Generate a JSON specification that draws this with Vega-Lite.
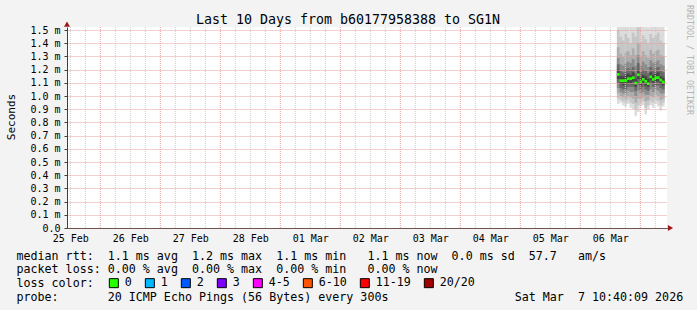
{
  "$schema": "https://vega.github.io/schema/vega-lite/v6.json",
  "width": 600,
  "height": 201,
  "autosize": {"type": "none"},
  "padding": {"left": 67, "top": 27, "right": 30, "bottom": 82},
  "background": "#f3f3f3",
  "config": {
    "view": {"fill": "white", "stroke": null},
    "font": "DejaVu Sans Mono"
  },
  "title": {
    "text": "Last 10 Days from b60177958388 to SG1N",
    "font": "DejaVu Sans Mono",
    "fontSize": 13.3,
    "fontWeight": "normal",
    "color": "#000000",
    "anchor": "middle",
    "frame": "group",
    "baseline": "alphabetic",
    "offset": 0,
    "dx": -19,
    "dy": 32
  },
  "datasets": {
    "minor": [
      {"g": "2026-02-25T12:00:00Z"}, {"g": "2026-02-25T18:00:00Z"},
      {"g": "2026-02-26T06:00:00Z"}, {"g": "2026-02-26T12:00:00Z"}, {"g": "2026-02-26T18:00:00Z"},
      {"g": "2026-02-27T06:00:00Z"}, {"g": "2026-02-27T12:00:00Z"}, {"g": "2026-02-27T18:00:00Z"},
      {"g": "2026-02-28T06:00:00Z"}, {"g": "2026-02-28T12:00:00Z"}, {"g": "2026-02-28T18:00:00Z"},
      {"g": "2026-03-01T06:00:00Z"}, {"g": "2026-03-01T12:00:00Z"}, {"g": "2026-03-01T18:00:00Z"},
      {"g": "2026-03-02T06:00:00Z"}, {"g": "2026-03-02T12:00:00Z"}, {"g": "2026-03-02T18:00:00Z"},
      {"g": "2026-03-03T06:00:00Z"}, {"g": "2026-03-03T12:00:00Z"}, {"g": "2026-03-03T18:00:00Z"},
      {"g": "2026-03-04T06:00:00Z"}, {"g": "2026-03-04T12:00:00Z"}, {"g": "2026-03-04T18:00:00Z"},
      {"g": "2026-03-05T06:00:00Z"}, {"g": "2026-03-05T12:00:00Z"}, {"g": "2026-03-05T18:00:00Z"},
      {"g": "2026-03-06T06:00:00Z"}, {"g": "2026-03-06T12:00:00Z"}, {"g": "2026-03-06T18:00:00Z"},
      {"g": "2026-03-07T06:00:00Z"}
    ],
    "major": [
      {"g": "2026-02-26T00:00:00Z"}, {"g": "2026-02-27T00:00:00Z"}, {"g": "2026-02-28T00:00:00Z"},
      {"g": "2026-03-01T00:00:00Z"}, {"g": "2026-03-02T00:00:00Z"}, {"g": "2026-03-03T00:00:00Z"},
      {"g": "2026-03-04T00:00:00Z"}, {"g": "2026-03-05T00:00:00Z"}, {"g": "2026-03-06T00:00:00Z"},
      {"g": "2026-03-07T00:00:00Z"}
    ]
  },
  "data": {
    "values": [
      {"t": "2026-03-06T15:10:00Z", "lo": 0.94, "p05": 0.98, "p10": 1.02, "p20": 1.06, "p30": 1.10, "p40": 1.13, "med": 1.164, "p60": 1.20, "p70": 1.24, "p80": 1.29, "p90": 1.37, "p95": 1.50, "hi": 1.60, "loss": "0"},
      {"t": "2026-03-06T16:10:00Z", "lo": 0.95, "p05": 0.97, "p10": 1.00, "p20": 1.03, "p30": 1.06, "p40": 1.09, "med": 1.116, "p60": 1.15, "p70": 1.19, "p80": 1.24, "p90": 1.32, "p95": 1.45, "hi": 1.60, "loss": "0"},
      {"t": "2026-03-06T17:10:00Z", "lo": 0.93, "p05": 0.96, "p10": 0.99, "p20": 1.02, "p30": 1.05, "p40": 1.08, "med": 1.116, "p60": 1.15, "p70": 1.18, "p80": 1.23, "p90": 1.30, "p95": 1.42, "hi": 1.60, "loss": "0"},
      {"t": "2026-03-06T18:10:00Z", "lo": 0.92, "p05": 0.95, "p10": 0.98, "p20": 1.02, "p30": 1.05, "p40": 1.09, "med": 1.116, "p60": 1.16, "p70": 1.20, "p80": 1.25, "p90": 1.33, "p95": 1.47, "hi": 1.60, "loss": "0"},
      {"t": "2026-03-06T19:10:00Z", "lo": 0.94, "p05": 0.97, "p10": 1.00, "p20": 1.04, "p30": 1.07, "p40": 1.10, "med": 1.131, "p60": 1.17, "p70": 1.21, "p80": 1.26, "p90": 1.34, "p95": 1.44, "hi": 1.60, "loss": "0"},
      {"t": "2026-03-06T20:10:00Z", "lo": 0.91, "p05": 0.95, "p10": 0.99, "p20": 1.03, "p30": 1.07, "p40": 1.10, "med": 1.131, "p60": 1.16, "p70": 1.20, "p80": 1.25, "p90": 1.31, "p95": 1.40, "hi": 1.55, "loss": "0"},
      {"t": "2026-03-06T21:10:00Z", "lo": 0.90, "p05": 0.94, "p10": 0.98, "p20": 1.03, "p30": 1.07, "p40": 1.11, "med": 1.139, "p60": 1.18, "p70": 1.22, "p80": 1.28, "p90": 1.36, "p95": 1.48, "hi": 1.60, "loss": "0"},
      {"t": "2026-03-06T22:10:00Z", "lo": 0.85, "p05": 0.90, "p10": 0.95, "p20": 1.00, "p30": 1.04, "p40": 1.07, "med": 1.098, "p60": 1.13, "p70": 1.17, "p80": 1.23, "p90": 1.31, "p95": 1.45, "hi": 1.60, "loss": "0"},
      {"t": "2026-03-06T23:10:00Z", "lo": 0.88, "p05": 0.93, "p10": 0.98, "p20": 1.04, "p30": 1.09, "p40": 1.13, "med": 1.161, "p60": 1.20, "p70": 1.25, "p80": 1.31, "p90": 1.40, "p95": 1.52, "hi": 1.60, "loss": "0"},
      {"t": "2026-03-07T00:10:00Z", "lo": 0.92, "p05": 0.95, "p10": 0.98, "p20": 1.02, "p30": 1.05, "p40": 1.08, "med": 1.108, "p60": 1.14, "p70": 1.18, "p80": 1.23, "p90": 1.30, "p95": 1.41, "hi": 1.60, "loss": "0"},
      {"t": "2026-03-07T01:10:00Z", "lo": 0.93, "p05": 0.96, "p10": 0.99, "p20": 1.03, "p30": 1.07, "p40": 1.10, "med": 1.126, "p60": 1.16, "p70": 1.20, "p80": 1.26, "p90": 1.34, "p95": 1.46, "hi": 1.60, "loss": "0"},
      {"t": "2026-03-07T02:10:00Z", "lo": 0.86, "p05": 0.91, "p10": 0.96, "p20": 1.01, "p30": 1.05, "p40": 1.08, "med": 1.111, "p60": 1.15, "p70": 1.19, "p80": 1.24, "p90": 1.31, "p95": 1.43, "hi": 1.60, "loss": "0"},
      {"t": "2026-03-07T03:10:00Z", "lo": 0.90, "p05": 0.93, "p10": 0.97, "p20": 1.01, "p30": 1.04, "p40": 1.07, "med": 1.093, "p60": 1.13, "p70": 1.17, "p80": 1.22, "p90": 1.29, "p95": 1.40, "hi": 1.52, "loss": "0"},
      {"t": "2026-03-07T04:10:00Z", "lo": 0.93, "p05": 0.96, "p10": 1.00, "p20": 1.05, "p30": 1.09, "p40": 1.12, "med": 1.146, "p60": 1.18, "p70": 1.22, "p80": 1.27, "p90": 1.35, "p95": 1.47, "hi": 1.60, "loss": "0"},
      {"t": "2026-03-07T05:10:00Z", "lo": 0.91, "p05": 0.95, "p10": 0.99, "p20": 1.03, "p30": 1.07, "p40": 1.10, "med": 1.126, "p60": 1.16, "p70": 1.20, "p80": 1.25, "p90": 1.32, "p95": 1.44, "hi": 1.60, "loss": "0"},
      {"t": "2026-03-07T06:10:00Z", "lo": 0.94, "p05": 0.97, "p10": 1.01, "p20": 1.05, "p30": 1.08, "p40": 1.11, "med": 1.139, "p60": 1.17, "p70": 1.21, "p80": 1.26, "p90": 1.34, "p95": 1.46, "hi": 1.60, "loss": "0"},
      {"t": "2026-03-07T07:10:00Z", "lo": 0.92, "p05": 0.96, "p10": 1.00, "p20": 1.04, "p30": 1.08, "p40": 1.11, "med": 1.139, "p60": 1.18, "p70": 1.22, "p80": 1.27, "p90": 1.35, "p95": 1.48, "hi": 1.60, "loss": "0"},
      {"t": "2026-03-07T08:10:00Z", "lo": 0.89, "p05": 0.93, "p10": 0.97, "p20": 1.02, "p30": 1.06, "p40": 1.09, "med": 1.121, "p60": 1.15, "p70": 1.19, "p80": 1.24, "p90": 1.31, "p95": 1.42, "hi": 1.60, "loss": "0"},
      {"t": "2026-03-07T09:10:00Z", "lo": 0.92, "p05": 0.95, "p10": 0.98, "p20": 1.02, "p30": 1.05, "p40": 1.08, "med": 1.106, "p60": 1.14, "p70": 1.18, "p80": 1.23, "p90": 1.30, "p95": 1.40, "hi": 1.60, "loss": "0"}
    ]
  },
  "layer": [
    {
      "mark": {"type": "bar", "width": 2.7, "clip": true, "color": "#dcdcdc"},
      "encoding": {
        "x": {
          "field": "t",
          "type": "temporal",
          "scale": {
            "type": "utc",
            "padding": 0,
            "domain": [
              {"year": 2026, "month": 2, "date": 25, "hours": 10, "minutes": 40, "seconds": 9, "utc": true},
              {"year": 2026, "month": 3, "date": 7, "hours": 10, "minutes": 40, "seconds": 9, "utc": true}
            ]
          },
          "axis": {
            "orient": "bottom",
            "values": [
              {"year": 2026, "month": 2, "date": 25, "hours": 12, "utc": true},
              {"year": 2026, "month": 2, "date": 26, "hours": 12, "utc": true},
              {"year": 2026, "month": 2, "date": 27, "hours": 12, "utc": true},
              {"year": 2026, "month": 2, "date": 28, "hours": 12, "utc": true},
              {"year": 2026, "month": 3, "date": 1, "hours": 12, "utc": true},
              {"year": 2026, "month": 3, "date": 2, "hours": 12, "utc": true},
              {"year": 2026, "month": 3, "date": 3, "hours": 12, "utc": true},
              {"year": 2026, "month": 3, "date": 4, "hours": 12, "utc": true},
              {"year": 2026, "month": 3, "date": 5, "hours": 12, "utc": true},
              {"year": 2026, "month": 3, "date": 6, "hours": 12, "utc": true}
            ],
            "tickCount": 20,
            "format": "%d %b",
            "labelFlush": false,
            "labelOverlap": false,
            "labelFont": "DejaVu Sans Mono",
            "labelFontSize": 10,
            "labelColor": "#000000",
            "labelPadding": 5,
            "ticks": false,
            "domainColor": "#000000",
            "domainWidth": 1,
            "grid": false,
            "title": [
              "median\u00a0rtt:\u00a0\u00a01.1\u00a0ms\u00a0avg\u00a0\u00a01.2\u00a0ms\u00a0max\u00a0\u00a01.1\u00a0ms\u00a0min\u00a0\u00a0\u00a01.1\u00a0ms\u00a0now\u00a0\u00a00.0\u00a0ms\u00a0sd\u00a0\u00a057.7\u00a0\u00a0\u00a0am/s",
              "packet\u00a0loss:\u00a00.00\u00a0%\u00a0avg\u00a0\u00a00.00\u00a0%\u00a0max\u00a0\u00a00.00\u00a0%\u00a0min\u00a0\u00a0\u00a00.00\u00a0%\u00a0now",
              "loss\u00a0color:",
              "probe:\u00a0\u00a0\u00a0\u00a0\u00a0\u00a0\u00a020\u00a0ICMP\u00a0Echo\u00a0Pings\u00a0(56\u00a0Bytes)\u00a0every\u00a0300s\u00a0\u00a0\u00a0\u00a0\u00a0\u00a0\u00a0\u00a0\u00a0\u00a0\u00a0\u00a0\u00a0\u00a0\u00a0\u00a0\u00a0\u00a0Sat\u00a0Mar\u00a0\u00a07\u00a010:40:09\u00a02026"
            ],
            "titleX": -51,
            "titleY": 31,
            "titleAlign": "left",
            "titleBaseline": "alphabetic",
            "titleFont": "DejaVu Sans Mono",
            "titleFontSize": 11.66,
            "titleFontWeight": "normal",
            "titleColor": "#000000",
            "titleLineHeight": 13.7,
            "titleLimit": 3000
          }
        },
        "y": {
          "field": "lo",
          "type": "quantitative",
          "scale": {"domain": [0, 1.523], "nice": false, "zero": false},
          "axis": {
            "orient": "left",
            "values": [0, 0.1, 0.2, 0.3, 0.4, 0.5, 0.6, 0.7, 0.8, 0.9, 1.0, 1.1, 1.2, 1.3, 1.4, 1.5],
            "tickCount": 40,
            "labelExpr": "format(datum.value, '.1f') + (datum.value == 0 ? '\u00a0\u00a0' : '\u00a0m')",
            "labelFont": "DejaVu Sans Mono",
            "labelFontSize": 10,
            "labelColor": "#000000",
            "labelPadding": 4,
            "labelOverlap": false,
            "tickSize": 3,
            "tickColor": "#404040",
            "domainColor": "#404040",
            "grid": true,
            "gridColor": "#e4a0a0",
            "gridDash": [1, 1],
            "gridWidth": 1,
            "zindex": 1,
            "title": "Seconds",
            "titleX": -55.5,
            "titleY": 89.5,
            "titleAngle": -90,
            "titleAlign": "center",
            "titleBaseline": "middle",
            "titleFont": "DejaVu Sans Mono",
            "titleFontSize": 11,
            "titleFontWeight": "normal",
            "titleColor": "#000000"
          }
        },
        "y2": {"field": "hi"}
      }
    },
    {
      "mark": {"type": "bar", "width": 2.7, "clip": true, "color": "#c6c6c6"},
      "encoding": {
        "x": {"field": "t", "type": "temporal"},
        "y": {"field": "p05", "type": "quantitative"},
        "y2": {"field": "p95"}
      }
    },
    {
      "mark": {"type": "bar", "width": 2.7, "clip": true, "color": "#acacac"},
      "encoding": {
        "x": {"field": "t", "type": "temporal"},
        "y": {"field": "p10", "type": "quantitative"},
        "y2": {"field": "p90"}
      }
    },
    {
      "mark": {"type": "bar", "width": 2.7, "clip": true, "color": "#8c8c8c"},
      "encoding": {
        "x": {"field": "t", "type": "temporal"},
        "y": {"field": "p20", "type": "quantitative"},
        "y2": {"field": "p80"}
      }
    },
    {
      "mark": {"type": "bar", "width": 2.7, "clip": true, "color": "#686868"},
      "encoding": {
        "x": {"field": "t", "type": "temporal"},
        "y": {"field": "p30", "type": "quantitative"},
        "y2": {"field": "p70"}
      }
    },
    {
      "mark": {"type": "bar", "width": 2.7, "clip": true, "color": "#444444"},
      "encoding": {
        "x": {"field": "t", "type": "temporal"},
        "y": {"field": "p40", "type": "quantitative"},
        "y2": {"field": "p60"}
      }
    },
    {
      "data": {"name": "minor"},
      "mark": {"type": "rule", "color": "#cccccc", "strokeDash": [1, 1], "strokeWidth": 1},
      "encoding": {
        "x": {"field": "g", "type": "temporal"}
      }
    },
    {
      "data": {"name": "major"},
      "mark": {"type": "rule", "color": "#e4a0a0", "strokeDash": [1, 1], "strokeWidth": 1},
      "encoding": {
        "x": {"field": "g", "type": "temporal"}
      }
    },
    {
      "mark": {"type": "point", "shape": "square", "filled": true, "size": 7.5, "opacity": 1},
      "encoding": {
        "x": {"field": "t", "type": "temporal"},
        "y": {"field": "med", "type": "quantitative"},
        "color": {
          "field": "loss",
          "type": "nominal",
          "scale": {
            "domain": ["0", "1", "2", "3", "4-5", "6-10", "11-19", "20/20"],
            "range": ["#26ff00", "#00b8ff", "#0059ff", "#7e00ff", "#ff00ff", "#ff5500", "#ff0000", "#a10000"]
          },
          "legend": {
            "orient": "none",
            "legendX": 41,
            "legendY": 250,
            "direction": "horizontal",
            "title": null,
            "symbolType": "square",
            "symbolSize": 81,
            "symbolStrokeColor": "#000000",
            "symbolStrokeWidth": 1,
            "symbolOpacity": 1,
            "labelFont": "DejaVu Sans Mono",
            "labelFontSize": 11.66,
            "labelColor": "#000000",
            "labelOffset": 5,
            "columnPadding": 11,
            "padding": 0,
            "encode": {
              "symbols": {
                "update": {
                  "stroke": {"value": "#000000"},
                  "strokeWidth": {"value": 1}
                }
              }
            }
          }
        }
      }
    },
    {
      "data": {"values": [{"k": 1}]},
      "mark": {"type": "point", "shape": "triangle-up", "filled": true, "size": 36, "color": "#a01818", "opacity": 1},
      "encoding": {
        "x": {"datum": {"year": 2026, "month": 2, "date": 25, "hours": 10, "minutes": 40, "seconds": 9, "utc": true}, "type": "temporal"},
        "y": {"datum": 1.545, "type": "quantitative"}
      }
    },
    {
      "data": {"values": [{"k": 1}]},
      "mark": {"type": "point", "shape": "triangle-right", "filled": true, "size": 36, "color": "#a01818", "opacity": 1},
      "encoding": {
        "x": {"datum": {"year": 2026, "month": 3, "date": 7, "hours": 12, "minutes": 4, "seconds": 9, "utc": true}, "type": "temporal"},
        "y": {"datum": 0, "type": "quantitative"}
      }
    },
    {
      "data": {"values": [{"wm": "RRDTOOL / TOBI OETIKER"}]},
      "mark": {"type": "text", "angle": 90, "align": "center", "baseline": "middle", "font": "DejaVu Sans Mono", "fontSize": 8.3, "color": "#b4b4b4"},
      "encoding": {
        "text": {"field": "wm"},
        "x": {"datum": {"year": 2026, "month": 3, "date": 7, "hours": 19, "minutes": 16, "seconds": 9, "utc": true}, "type": "temporal"},
        "y": {"datum": 1.2727, "type": "quantitative"}
      }
    }
  ]
}
